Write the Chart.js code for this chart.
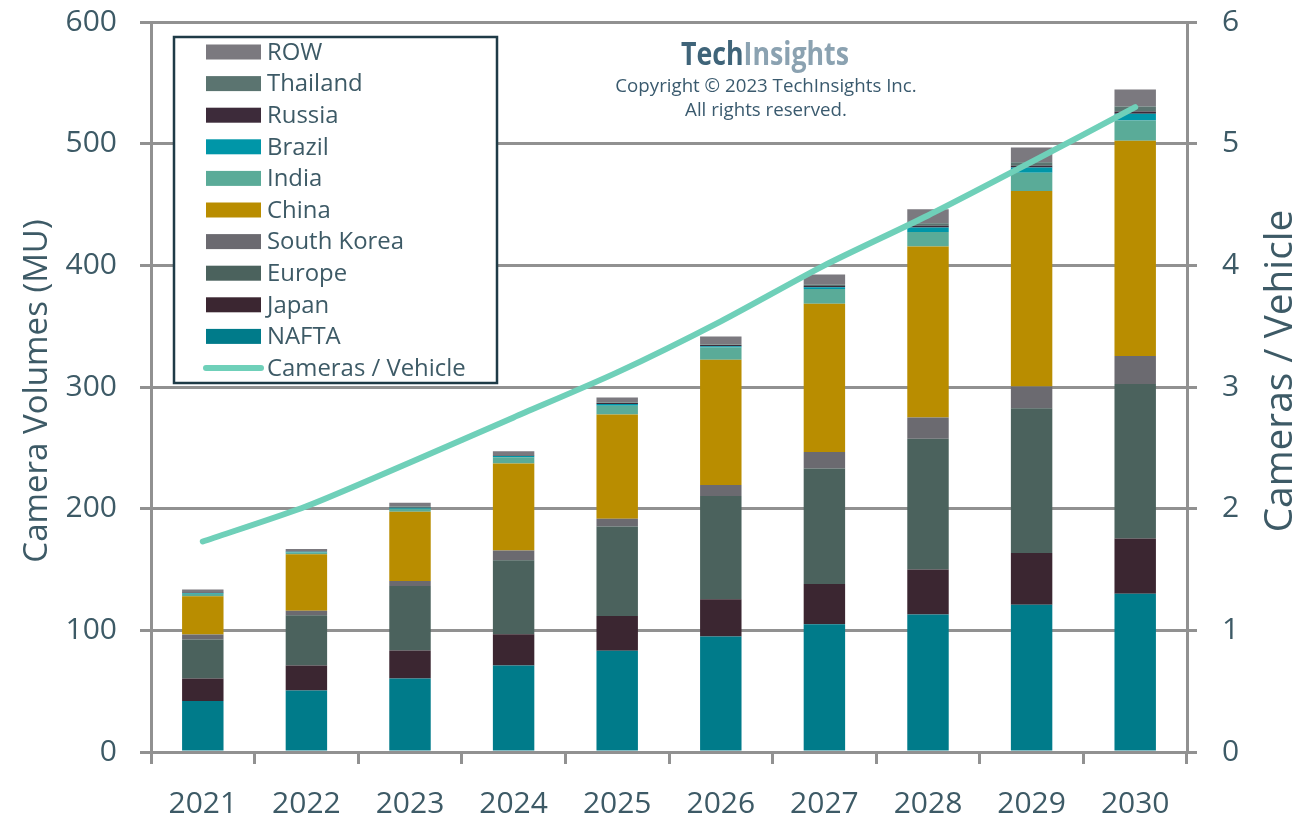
<!DOCTYPE html>
<html>
<head>
<meta charset="utf-8">
<script src="https://cdn.jsdelivr.net/npm/chart.js@4/dist/chart.umd.min.js"></script>
<style>
html,body{margin:0;padding:0;background:#ffffff;}
#wrap{width:1304px;height:820px;position:relative;}
</style>
</head>
<body>
<div id="wrap"><canvas id="c" width="1304" height="820"></canvas></div>
<script>
// ---- data ----
const years = ['2021','2022','2023','2024','2025','2026','2027','2028','2029','2030'];
const nafta      = [42, 50.5, 60.5, 71, 83.3, 95, 105, 113, 121, 130];
const japan      = [18.5, 20.5, 23, 25.7, 28.5, 30.5, 33, 37, 42.5, 45.5];
const europe     = [32, 41.5, 53, 61, 73.5, 85, 95, 107.5, 119, 127];
const southKorea = [4, 3.5, 4, 8, 6.5, 9, 13.5, 17.5, 18, 23];
const china      = [31.5, 46.5, 57, 71.5, 85.7, 103, 122, 140.5, 160.5, 177];
const india      = [2, 1.5, 2.5, 5, 7, 10, 12, 12, 15, 16.5];
const brazil     = [0.7, 0.5, 0.7, 1, 1.5, 1, 1.5, 3.5, 4.5, 5.5];
const russia     = [0.3, 0.3, 0.3, 0.5, 0.8, 1, 1, 1.5, 1.3, 2];
const thailand   = [0.5, 0.5, 0.8, 0.5, 0.5, 0.5, 1, 2, 3, 4];
const rowOther   = [2, 1.5, 3, 3, 4, 6.5, 8.5, 11.5, 12, 14];
const camerasPerVehicle = [1.73, 2.02, 2.38, 2.75, 3.12, 3.54, 4.0, 4.41, 4.85, 5.30];

const seriesNames = ['NAFTA','Japan','Europe','South Korea','China','India','Brazil','Russia','Thailand','ROW'];
const seriesValues = [nafta, japan, europe, southKorea, china, india, brazil, russia, thailand, rowOther];
const seriesColors = ['#007b8a','#3b2631','#4b625d','#6b6a70','#b98d00','#5aab98','#0096a8','#3d2b3a','#5b7470','#7b797f'];
const lineName = 'Cameras / Vehicle';
const lineColor = '#6fd0b9';
const leftTitle = 'Camera Volumes (MU)';
const rightTitle = 'Cameras / Vehicle';

// ---- styles ----
const FONT = '"Open Sans", "Noto Sans", sans-serif';
const TXT = '#3d5a66';
const GRID = '#919191';

const datasets = seriesNames.map((name, i) => ({
  type: 'bar',
  label: name,
  data: seriesValues[i],
  backgroundColor: seriesColors[i],
  borderWidth: 0,
  stack: 'v',
  yAxisID: 'y',
  order: 1,
  barPercentage: 0.4,
  categoryPercentage: 1.0
}));
datasets.push({
  type: 'line',
  label: lineName,
  data: camerasPerVehicle,
  yAxisID: 'y2',
  borderColor: lineColor,
  backgroundColor: lineColor,
  borderWidth: 6,
  borderCapStyle: 'round',
  borderJoinStyle: 'round',
  pointRadius: 0,
  tension: 0.25,
  fill: false,
  order: 0
});

function fitFont(ctx, text, targetWidth, base) {
  ctx.font = base + 'px ' + FONT;
  const w = ctx.measureText(text).width;
  return base * targetWidth / w;
}

const overlayPlugin = {
  id: 'overlay',
  afterDraw(chart) {
    const ctx = chart.ctx;
    ctx.save();

    // axis titles (both read bottom-to-top)
    ctx.fillStyle = TXT;
    ctx.textAlign = 'center';
    ctx.textBaseline = 'alphabetic';
    let fs = fitFont(ctx, leftTitle, 343, 30);
    ctx.font = fs.toFixed(1) + 'px ' + FONT;
    ctx.save();
    ctx.translate(46.5, 391);
    ctx.rotate(-Math.PI / 2);
    ctx.fillText(leftTitle, 0, 0);
    ctx.restore();

    fs = fitFont(ctx, rightTitle, 323, 30);
    ctx.font = fs.toFixed(1) + 'px ' + FONT;
    ctx.save();
    ctx.translate(1292, 371);
    ctx.rotate(-Math.PI / 2);
    ctx.fillText(rightTitle, 0, 0);
    ctx.restore();

    // legend box
    const lx = 174, ly = 37, lw = 323, lh = 346;
    ctx.fillStyle = '#ffffff';
    ctx.fillRect(lx, ly, lw, lh);
    ctx.strokeStyle = '#1f3b47';
    ctx.lineWidth = 2.5;
    ctx.strokeRect(lx, ly, lw, lh);
    const ds = chart.data.datasets;
    const bars = ds.filter(d => d.type === 'bar').slice().reverse();
    const lines = ds.filter(d => d.type === 'line');
    const items = bars.concat(lines);
    fs = fitFont(ctx, lineName, 199, 22);
    ctx.font = fs.toFixed(1) + 'px ' + FONT;
    ctx.textAlign = 'left';
    ctx.textBaseline = 'middle';
    items.forEach((d, i) => {
      const cy = 52 + i * 31.6;
      if (d.type === 'bar') {
        ctx.fillStyle = d.backgroundColor;
        ctx.fillRect(206, cy - 7.5, 55, 15);
      } else {
        ctx.strokeStyle = d.borderColor;
        ctx.lineWidth = 6;
        ctx.lineCap = 'round';
        ctx.beginPath();
        ctx.moveTo(206, cy);
        ctx.lineTo(261, cy);
        ctx.stroke();
      }
      ctx.fillStyle = TXT;
      ctx.fillText(d.label, 267, cy + 1);
    });

    // watermark
    ctx.textAlign = 'left';
    ctx.textBaseline = 'alphabetic';
    ctx.font = 'bold 32px ' + FONT;
    const w1 = ctx.measureText('Tech').width;
    const w2 = ctx.measureText('Insights').width;
    const sx = 168 / (w1 + w2);
    ctx.save();
    ctx.translate(681, 65);
    ctx.scale(sx, 1);
    ctx.fillStyle = '#3f6479';
    ctx.fillText('Tech', 0, 0);
    ctx.fillStyle = '#8ba2b1';
    ctx.fillText('Insights', w1, 0);
    ctx.restore();

    ctx.fillStyle = '#3a5a6e';
    fs = fitFont(ctx, 'Copyright \u00A9 2023 TechInsights Inc.', 302, 19);
    ctx.font = fs.toFixed(1) + 'px ' + FONT;
    ctx.textAlign = 'center';
    ctx.textBaseline = 'middle';
    ctx.fillText('Copyright \u00A9 2023 TechInsights Inc.', 766, 87);
    ctx.fillText('All rights reserved.', 766, 111);

    ctx.restore();
  }
};

function noVPad(s) { s.paddingTop = 0; s.paddingBottom = 0; }

new Chart(document.getElementById('c'), {
  data: { labels: years, datasets: datasets },
  options: {
    responsive: false,
    animation: false,
    devicePixelRatio: 1,
    layout: { padding: { top: 22, left: 0, right: 0, bottom: 0 } },
    plugins: { legend: { display: false }, tooltip: { enabled: false } },
    scales: {
      x: {
        stacked: true,
        offset: true,
        grid: { offset: true, drawOnChartArea: false, drawTicks: true, tickLength: 12, color: GRID, lineWidth: 3 },
        border: { display: true, color: GRID, width: 3 },
        ticks: { color: TXT, font: { family: FONT, size: 30 }, padding: 22, maxRotation: 0 },
        afterFit(s) { s.height = 68; }
      },
      y: {
        position: 'left',
        stacked: true,
        min: 0, max: 600,
        ticks: { stepSize: 100, color: TXT, font: { family: FONT, size: 30 }, padding: 23 },
        grid: { color: GRID, lineWidth: 3, tickLength: 11, drawTicks: true },
        border: { display: true, color: GRID, width: 3 },
        afterFit(s) { s.width = 151; noVPad(s); }
      },
      y2: {
        position: 'right',
        min: 0, max: 6,
        ticks: { stepSize: 1, color: TXT, font: { family: FONT, size: 30 }, padding: 25 },
        grid: { drawOnChartArea: false, color: GRID, lineWidth: 3, tickLength: 10, drawTicks: true },
        border: { display: true, color: GRID, width: 3 },
        afterFit(s) { s.width = 117; noVPad(s); }
      }
    }
  },
  plugins: [overlayPlugin]
});
</script>
</body>
</html>
